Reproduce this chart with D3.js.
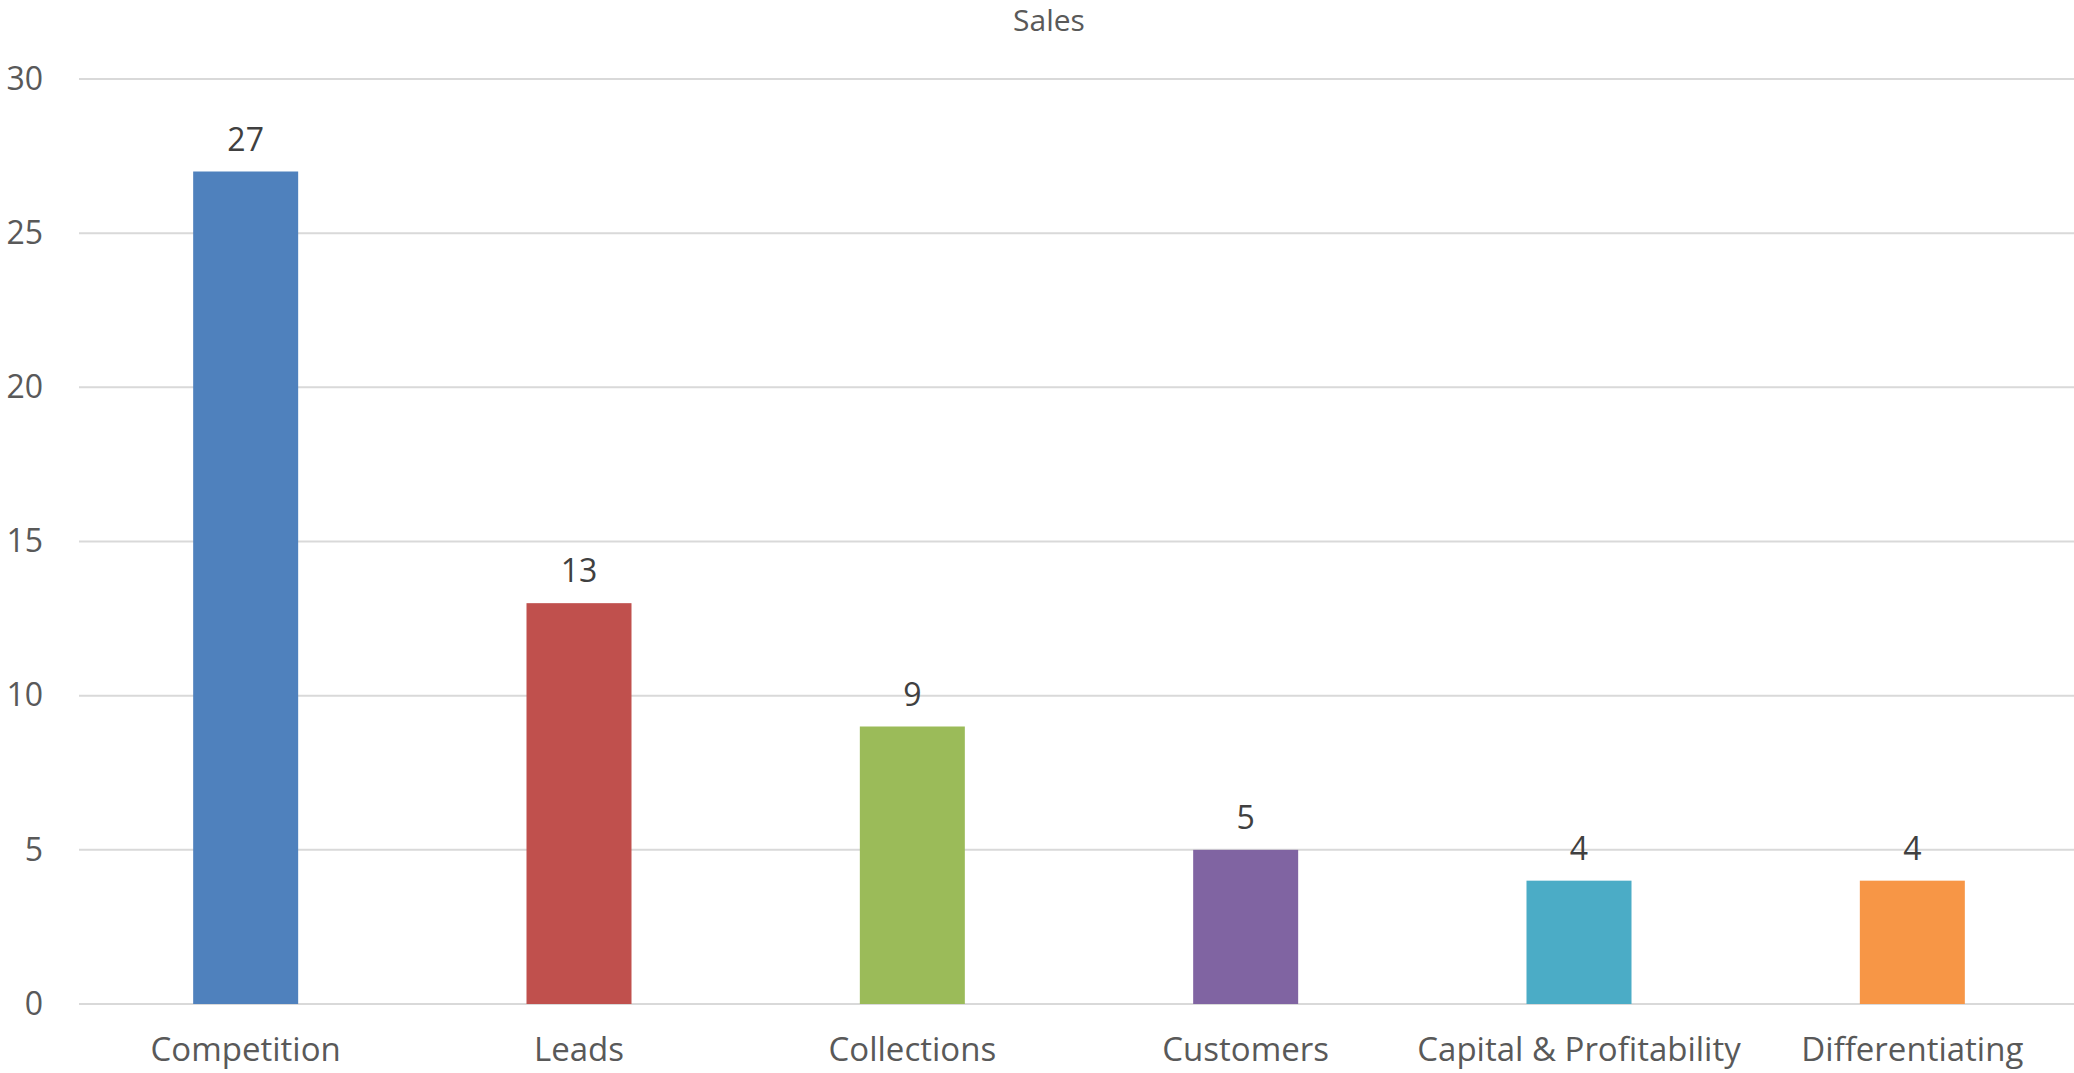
<!DOCTYPE html>
<html>
<head>
<meta charset="utf-8">
<script src="https://cdn.jsdelivr.net/npm/d3@7"></script>
<style>
  html, body { margin: 0; padding: 0; background: #fff; }
  svg { display: block; }
  text { font-family: "Open Sans", "Liberation Sans", sans-serif; }
</style>
</head>
<body>
<svg id="chart" width="2074" height="1073"></svg>
<script>
// Sales counts by topic
const categories = ["Competition", "Leads", "Collections", "Customers", "Capital & Profitability", "Differentiating"];
const values = [27, 13, 9, 5, 4, 4];
const colors = ["#4F81BD", "#C0504D", "#9BBB59", "#8064A2", "#4BACC6", "#F79646"];
const yTicks = [0, 5, 10, 15, 20, 25, 30];
const title = "Sales";

const svg = d3.select("#chart");
const plotLeft = 79, plotRight = 2079, plotTop = 79, plotBottom = 1004;

const x = d3.scaleBand().domain(categories).range([plotLeft, plotRight]).paddingInner(0.685).paddingOuter(0.3425);
const y = d3.scaleLinear().domain([0, 30]).range([plotBottom, plotTop]);

// horizontal gridlines
svg.append("g")
  .selectAll("line")
  .data(yTicks)
  .join("line")
  .attr("x1", plotLeft).attr("x2", plotRight)
  .attr("y1", d => y(d)).attr("y2", d => y(d))
  .attr("stroke", "#D9D9D9").attr("stroke-width", 2);

// y axis labels
const yAxis = svg.append("g")
  .attr("transform", `translate(${plotLeft},0)`)
  .call(d3.axisLeft(y).tickValues(yTicks).tickSize(0).tickPadding(36));
yAxis.select(".domain").remove();
yAxis.selectAll("text")
  .attr("fill", "#595959").style("font-size", "32px")
  .style("font-family", '"Open Sans", sans-serif');

// x axis labels
const xAxis = svg.append("g")
  .attr("transform", `translate(0,${plotBottom})`)
  .call(d3.axisBottom(x).tickSize(0).tickPadding(34));
xAxis.select(".domain").remove();
xAxis.selectAll("text")
  .attr("fill", "#595959").style("font-size", "33px")
  .style("font-family", '"Open Sans", sans-serif');

// bars
svg.append("g")
  .selectAll("rect")
  .data(values)
  .join("rect")
  .attr("x", (d, i) => x(categories[i]))
  .attr("width", x.bandwidth())
  .attr("y", d => y(d))
  .attr("height", d => y(0) - y(d))
  .attr("fill", (d, i) => colors[i]);

// value labels
svg.append("g")
  .selectAll("text")
  .data(values)
  .join("text")
  .attr("x", (d, i) => x(categories[i]) + x.bandwidth() / 2)
  .attr("y", d => y(d) - 21)
  .attr("text-anchor", "middle")
  .attr("fill", "#404040")
  .style("font-size", "32px")
  .text(d => d);

// title
svg.append("text")
  .attr("x", 1049).attr("y", 31)
  .attr("text-anchor", "middle")
  .attr("fill", "#595959")
  .style("font-size", "30px")
  .text(title);
</script>
</body>
</html>
